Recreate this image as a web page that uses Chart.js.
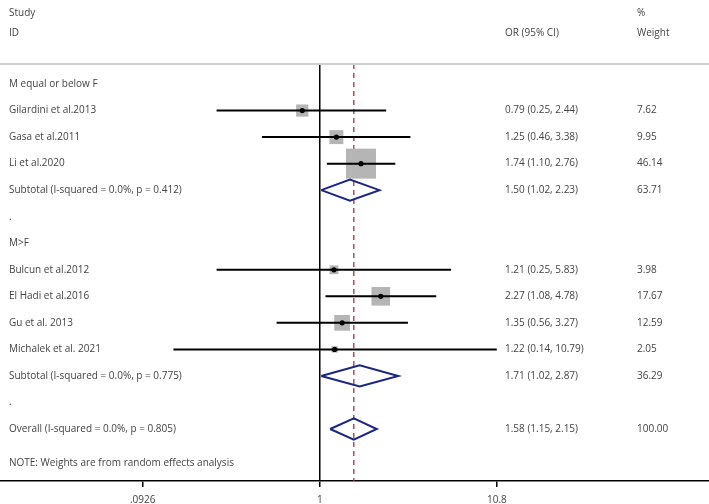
<!DOCTYPE html>
<html>
<head>
<meta charset="utf-8">
<script src="https://cdn.jsdelivr.net/npm/chart.js@4"></script>
<style>
  html, body { margin: 0; padding: 0; background: #fff; }
  #wrap { width: 709px; height: 504px; }
</style>
</head>
<body>
<div id="wrap"><canvas id="forest" width="709" height="504"></canvas></div>
<script>
/* ---------- data ---------- */
const rowLabels = [
  'M equal or below F',
  'Gilardini et al.2013',
  'Gasa et al.2011',
  'Li et al.2020',
  'Subtotal (I-squared = 0.0%, p = 0.412)',
  '.',
  'M>F',
  'Bulcun et al.2012',
  'El Hadi et al.2016',
  'Gu et al. 2013',
  'Michalek et al. 2021',
  'Subtotal (I-squared = 0.0%, p = 0.775)',
  '.',
  'Overall (I-squared = 0.0%, p = 0.805)'
];
const rowKind = ['head', 'study', 'study', 'study', 'sub', 'blank', 'head',
  'study', 'study', 'study', 'study', 'sub', 'blank', 'sub'];
const oddsRatio = [null, 0.79, 1.25, 1.74, 1.50, null, null, 1.21, 2.27, 1.35, 1.22, 1.71, null, 1.58];
const ciLow     = [null, 0.25, 0.46, 1.10, 1.02, null, null, 0.25, 1.08, 0.56, 0.14, 1.02, null, 1.15];
const ciHigh    = [null, 2.44, 3.38, 2.76, 2.23, null, null, 5.83, 4.78, 3.27, 10.79, 2.87, null, 2.15];
const weights   = [null, 7.62, 9.95, 46.14, 63.71, null, null, 3.98, 17.67, 12.59, 2.05, 36.29, null, 100.00];
const overallOR = 1.58;
const tickValues = [0.0926, 1, 10.8];
const tickLabels = ['.0926', '1', '10.8'];
const noteText = 'NOTE: Weights are from random effects analysis';

/* ---------- build datasets ---------- */
const GAP = { x: NaN, y: NaN };
const ciLines = [];
const boxes = [];
const dots = [];
const diamonds = [];
rowKind.forEach((k, i) => {
  if (k === 'study') {
    ciLines.push({ x: ciLow[i], y: i }, { x: ciHigh[i], y: i }, GAP);
    boxes.push({ x: oddsRatio[i], y: i, w: weights[i] });
    dots.push({ x: oddsRatio[i], y: i });
  } else if (k === 'sub') {
    const h = 0.4;
    diamonds.push(
      { x: ciLow[i], y: i }, { x: oddsRatio[i], y: i - h },
      { x: ciHigh[i], y: i }, { x: oddsRatio[i], y: i + h },
      { x: ciLow[i], y: i }, GAP
    );
  }
});

const yTop = -0.755, yBottom = 14.96;

/* ---------- text columns ---------- */
const textPlugin = {
  id: 'forestText',
  afterDraw(chart) {
    const ctx = chart.ctx;
    const yScale = chart.scales.y;
    const area = chart.chartArea;
    ctx.save();
    // header rule
    ctx.strokeStyle = '#cfcfcf';
    ctx.lineWidth = 2;
    ctx.beginPath();
    ctx.moveTo(0, area.top);
    ctx.lineTo(chart.width, area.top);
    ctx.stroke();

    ctx.fillStyle = '#444';
    ctx.font = '10px "Open Sans"';
    ctx.textBaseline = 'middle';
    ctx.textAlign = 'left';
    ctx.fillText('Study', 9, 13);
    ctx.fillText('ID', 9, 33);
    ctx.fillText('OR (95% CI)', 505, 33);
    ctx.fillText('%', 637, 13);
    ctx.fillText('Weight', 637, 33);

    rowLabels.forEach((lab, i) => {
      const y = yScale.getPixelForValue(i);
      ctx.fillText(lab, 9, y);
      if (oddsRatio[i] !== null) {
        ctx.fillText(oddsRatio[i].toFixed(2) + ' (' + ciLow[i].toFixed(2) + ', ' + ciHigh[i].toFixed(2) + ')', 505, y);
        ctx.fillText(weights[i].toFixed(2), 637, y);
      }
    });
    ctx.fillText(noteText, 9, yScale.getPixelForValue(14.3));
    ctx.restore();
  }
};

new Chart(document.getElementById('forest'), {
  type: 'scatter',
  data: {
    datasets: [
      {
        // no-effect line
        data: [{ x: 1, y: yTop }, { x: 1, y: yBottom }],
        showLine: true, borderColor: '#000', borderWidth: 1.5, pointRadius: 0, order: 6
      },
      {
        // overall estimate line
        data: [{ x: overallOR, y: yTop }, { x: overallOR, y: yBottom }],
        showLine: true, borderColor: '#b03040', borderWidth: 1.3, borderDash: [5, 4], pointRadius: 0, order: 5
      },
      {
        data: boxes,
        pointStyle: 'rect',
        backgroundColor: '#b5b5b5',
        borderWidth: 0,
        pointRadius: ctx => ctx.raw ? 4.42 * Math.sqrt(ctx.raw.w) / Math.SQRT2 : 0,
        order: 4
      },
      {
        data: ciLines,
        showLine: true, spanGaps: false, borderColor: '#000', borderWidth: 2, pointRadius: 0, order: 3
      },
      {
        data: dots,
        pointStyle: 'circle', backgroundColor: '#000', borderWidth: 0, pointRadius: 2.6, order: 2
      },
      {
        data: diamonds,
        showLine: true, spanGaps: false, borderColor: '#1b2680', borderWidth: 2, pointRadius: 0, order: 1
      }
    ]
  },
  options: {
    responsive: false,
    animation: false,
    events: [],
    layout: { autoPadding: false, padding: { top: 64, left: 0, right: 0, bottom: 0 } },
    plugins: { legend: { display: false }, tooltip: { enabled: false } },
    scales: {
      x: {
        type: 'logarithmic',
        min: 0.01362,
        max: 186.7,
        afterBuildTicks: s => { s.ticks = tickValues.map(v => ({ value: v })); },
        afterFit: s => { s.height = 23; },
        ticks: {
          autoSkip: false,
          maxRotation: 0,
          padding: 7,
          color: '#444',
          font: { family: 'Open Sans', size: 10 },
          callback: v => tickLabels[tickValues.indexOf(v)]
        },
        grid: { display: true, drawOnChartArea: false, drawTicks: true, tickLength: 6, color: '#000', lineWidth: 1.5 },
        border: { display: true, color: '#000', width: 1.5 }
      },
      y: {
        type: 'linear',
        reverse: true,
        min: yTop,
        max: yBottom,
        display: false
      }
    }
  },
  plugins: [textPlugin]
});
</script>
</body>
</html>
